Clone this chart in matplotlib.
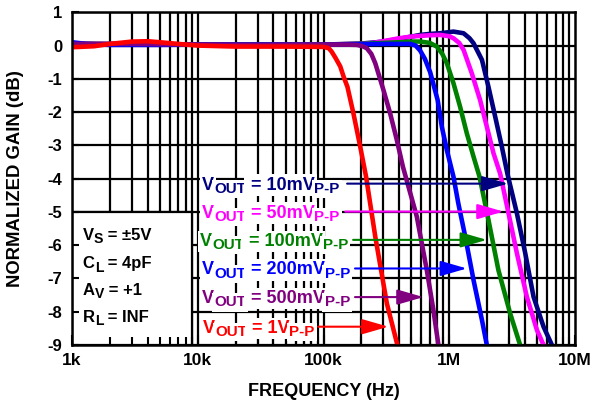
import numpy as np
import matplotlib
matplotlib.use('Agg')
import matplotlib.pyplot as plt
from matplotlib.patches import Rectangle
from matplotlib.transforms import offset_copy

plt.rcParams['font.family'] = ['Liberation Sans', 'DejaVu Sans']
plt.rcParams['font.weight'] = 'bold'

# curves (freq in Hz, gain in dB)
f_1v = [1e3, 1.5e3, 2e3, 3e3, 4e3, 5e3, 7e3, 10e3, 20e3, 50e3, 100e3, 110e3, 116e3, 125e3,
        136e3, 145e3, 155e3, 173e3, 195e3, 218e3, 258e3, 319e3, 387e3, 400e3]
g_1v = [-0.05, -0.02, 0.05, 0.12, 0.13, 0.1, 0.05, 0.0, -0.03, -0.03, -0.04, -0.08, -0.18, -0.38,
        -0.63, -0.95, -1.24, -2.04, -3.0, -3.94, -5.74, -7.75, -9.0, -9.25]

f_500m = [1e3, 3e3, 10e3, 30e3, 100e3, 150e3, 184e3, 205e3, 221e3, 240e3, 258e3, 300e3, 339e3,
          383e3, 428e3, 552e3, 663e3, 748e3, 820e3, 840e3]
g_500m = [0.05, 0.05, 0.03, 0.02, 0.03, 0.03, 0.02, -0.02, -0.08, -0.25, -0.53, -1.34, -2.04,
          -2.84, -3.64, -5.14, -6.75, -7.95, -9.0, -9.3]

f_200m = [1e3, 1.3e3, 2e3, 5e3, 10e3, 100e3, 300e3, 489e3, 540e3, 587e3, 640e3, 705e3, 809e3,
          873e3, 957e3, 1.08e6, 1.18e6, 1.34e6, 1.56e6, 1.82e6, 1.99e6, 2.05e6]
g_200m = [0.1, 0.05, 0.02, 0.02, 0.03, 0.03, 0.05, 0.05, 0.0, -0.15, -0.4, -0.8, -1.64,
          -2.44, -3.14, -3.94, -4.74, -5.74, -7.05, -8.25, -9.0, -9.3]

f_100m = [1e3, 10e3, 100e3, 200e3, 300e3, 400e3, 500e3, 587e3, 700e3, 797e3, 880e3, 957e3,
          1.08e6, 1.22e6, 1.38e6, 1.56e6, 1.74e6, 2.05e6, 2.46e6, 3.05e6, 3.66e6, 3.8e6]
g_100m = [0.05, 0.03, 0.03, 0.05, 0.08, 0.1, 0.12, 0.12, 0.08, -0.03, -0.25, -0.53,
          -1.13, -1.84, -2.64, -3.34, -3.94, -5.24, -6.75, -8.05, -9.0, -9.3]

f_50m = [1e3, 10e3, 100e3, 200e3, 250e3, 317e3, 400e3, 500e3, 587e3, 700e3, 847e3, 1.0e6,
         1.08e6, 1.2e6, 1.30e6, 1.51e6, 1.76e6, 1.99e6, 2.25e6, 2.54e6, 2.96e6, 3.45e6,
         4.14e6, 4.98e6, 5.62e6, 5.9e6]
g_50m = [0.05, 0.03, 0.03, 0.05, 0.08, 0.15, 0.22, 0.27, 0.29, 0.31, 0.32, 0.28,
         0.22, 0.08, -0.13, -0.83, -1.64, -2.44, -3.24, -3.85, -5.04, -6.24,
         -7.55, -8.55, -9.0, -9.3]

f_10m = [1e3, 10e3, 100e3, 200e3, 300e3, 400e3, 500e3, 587e3, 700e3, 847e3, 1.08e6, 1.30e6,
         1.45e6, 1.56e6, 1.82e6, 2.05e6, 2.32e6, 2.62e6, 2.90e6, 3.45e6, 4.02e6, 4.68e6,
         5.62e6, 6.55e6, 6.9e6]
g_10m = [0.05, 0.03, 0.03, 0.06, 0.12, 0.2, 0.27, 0.32, 0.35, 0.37, 0.42, 0.37,
         0.22, 0.07, -0.43, -1.24, -2.14, -3.04, -3.85, -5.04, -6.24, -7.55,
         -8.45, -9.0, -9.3]

labels = ['10mV', '50mV', '100mV', '200mV', '500mV', '1V']
colors = ['#000080', '#ff00ff', '#008000', '#0000ff', '#800080', '#ff0000']
curves = [(f_10m, g_10m), (f_50m, g_50m), (f_100m, g_100m),
          (f_200m, g_200m), (f_500m, g_500m), (f_1v, g_1v)]

xticks = [1e3, 1e4, 1e5, 1e6, 1e7]
xticklabels = ['1k', '10k', '100k', '1M', '10M']
yticks = list(range(-9, 2))

cond_names = [('V', 'S', ' = ±5V'), ('C', 'L', ' = 4pF'), ('A', 'V', ' = +1'), ('R', 'L', ' = INF')]

fig = plt.figure(figsize=(6.05, 4.04), dpi=100)
ax = fig.add_axes([72/605, 1-345/404, 503/605, 332.7/404])
ax.set_xscale('log')
ax.set_xlim(1e3, 1e7)
ax.set_ylim(-9, 1)
rend = fig.canvas.get_renderer()


def rich_text(x, y, parts, color, size, z, box):
    # parts: list of (string, is_subscript); drawn left to right
    dx = 0
    for s, sub in parts:
        fs = size*0.84 if sub else size
        dy = -3.3 if sub else 0
        tr = offset_copy(ax.transData, fig=fig, x=dx, y=dy, units='dots')
        kw = dict(bbox=dict(fc='white', ec='none', pad=1.5)) if box else {}
        t = ax.text(x, y, s, transform=tr, fontsize=fs, fontweight='bold', color=color,
                    va='baseline', ha='left', zorder=z, **kw)
        dx += t.get_window_extent(renderer=rend).width


# grid drawn by hand so the condition box can cover it but not the ticks
for dec in [1e3, 1e4, 1e5, 1e6]:
    for m in range(1, 10):
        ax.axvline(m*dec, color='black', lw=1.6, zorder=1)
for yv in yticks:
    ax.axhline(yv, color='black', lw=1.6, zorder=1)

ax.add_patch(Rectangle((1e3, -9), 9.0e3-1e3, 4, fc='white', ec='black', lw=1.6, zorder=1.8))

for (f, g), c in zip(curves, colors):
    ax.plot(f, g, color=c, lw=3.3, zorder=3, solid_capstyle='butt')

# legend labels with arrows (label x, baseline y, tail x, tip x, arrow y)
ann = [(10.8e3, -4.33, 154e3, 2.94e6, -4.15),
       (10.8e3, -5.17, 149e3, 2.70e6, -4.99),
       (10.4e3, -6.02, 172e3, 1.99e6, -5.84),
       (10.8e3, -6.88, 178e3, 1.38e6, -6.70),
       (10.8e3, -7.74, 178e3, 624e3, -7.56),
       (11.0e3, -8.63, 90.6e3, 328e3, -8.45)]
for lab, c, (tx, ty, ax0, ax1, ay) in zip(labels, colors, ann):
    rich_text(tx, ty, [('V', False), ('OUT', True), (' = ' + lab, False), ('P-P', True)],
              c, 13, 4, True)
    ax.annotate('', xy=(ax1, ay), xytext=(ax0, ay),
                arrowprops=dict(arrowstyle='-|>,head_length=0.9,head_width=0.26', color=c,
                                lw=1.5, mutation_scale=18, shrinkA=0, shrinkB=0), zorder=5)

cond_y = [-5.84, -6.70, -7.50, -8.30]
for (a, b, c), yy in zip(cond_names, cond_y):
    rich_text(1.22e3, yy, [(a, False), (b, True), (c, False)], 'black', 12, 2, False)

ax.set_axisbelow(False)
ax.set_xticks(xticks)
ax.set_xticklabels(xticklabels)
ax.set_yticks(yticks)
ax.set_yticklabels([str(v) for v in yticks])
ax.tick_params(axis='both', which='both', direction='in', width=1.5, labelsize=12.5)
ax.tick_params(axis='x', which='major', length=7, pad=6)
ax.tick_params(axis='x', which='minor', length=6)
ax.tick_params(axis='y', which='major', length=5, pad=7, labelsize=12)
ax.xaxis.set_minor_formatter(plt.NullFormatter())
for lbl in ax.get_xticklabels() + ax.get_yticklabels():
    lbl.set_fontweight('bold')
for s in ax.spines.values():
    s.set_linewidth(1.8)
    s.set_zorder(6)

ax.set_xlabel('FREQUENCY (Hz)', fontsize=13, fontweight='bold')
ax.set_ylabel('NORMALIZED GAIN (dB)', fontsize=13.3, fontweight='bold')
ax.xaxis.set_label_coords(0.5, -0.114)
ax.yaxis.set_label_coords(-0.095, 0.5)

fig.savefig('out.png', dpi=100, facecolor='white')
